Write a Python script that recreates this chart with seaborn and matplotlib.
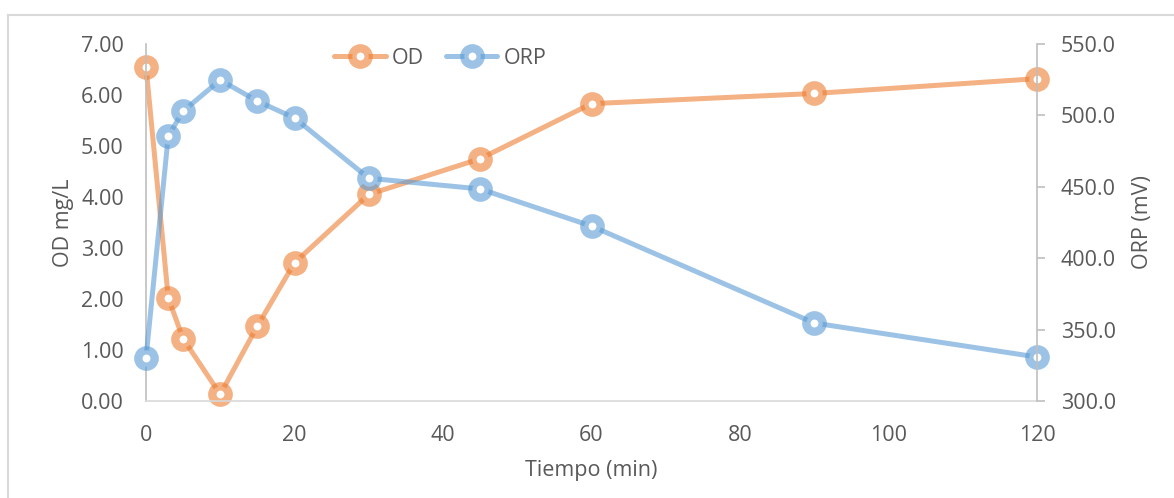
import matplotlib
matplotlib.use("Agg")
import matplotlib.pyplot as plt
import matplotlib.patches as mpatches
import seaborn as sns
import pandas as pd

# Data
tiempo = [0, 3, 5, 10, 15, 20, 30, 45, 60, 90, 120]
od = [6.55, 2.02, 1.22, 0.13, 1.47, 2.71, 4.05, 4.75, 5.83, 6.03, 6.32]
orp = [330.2, 485.6, 503.0, 524.8, 510.0, 498.2, 456.0, 448.5, 422.5, 354.6, 330.8]

od_ticks = [0, 1, 2, 3, 4, 5, 6, 7]
orp_ticks = [300, 350, 400, 450, 500, 550]
x_ticks = [0, 20, 40, 60, 80, 100, 120]

sns.set_theme(style="white")
plt.rcParams['font.family'] = ['Open Sans', 'DejaVu Sans']

df = pd.DataFrame({"Tiempo": tiempo, "OD": od, "ORP": orp})

txt = "#595959"
orange = (0.929, 0.490, 0.192, 0.6)
blue = (0.357, 0.608, 0.835, 0.6)

fig = plt.figure(figsize=(11.74, 4.98), dpi=100)
ax = fig.add_axes([146/1174, 1 - 401/498, (1037 - 146)/1174, (401 - 44)/498])
ax2 = ax.twinx()

style = dict(marker="o", markersize=11.8, markeredgewidth=6,
             markerfacecolor="white", linewidth=3.6, clip_on=False)
sns.lineplot(data=df, x="Tiempo", y="OD", ax=ax, color=orange,
             markeredgecolor=orange, label="OD", legend=False, **style)
sns.lineplot(data=df, x="Tiempo", y="ORP", ax=ax2, color=blue,
             markeredgecolor=blue, label="ORP", legend=False, **style)

for a in (ax, ax2):
    a.set_facecolor("none")
    a.grid(False)
    a.set_xlim(0, 120)
    for s in a.spines.values():
        s.set_visible(False)

ax.set_ylim(0, 7)
ax.set_yticks(od_ticks)
ax.set_yticklabels([f"{v:.2f}" for v in od_ticks])
ax.set_xticks(x_ticks)
ax.set_xticklabels([str(v) for v in x_ticks])
ax.spines["left"].set_visible(True)
ax.spines["left"].set_color("#BFBFBF")
ax.spines["left"].set_linewidth(1.2)
ax.spines["bottom"].set_visible(True)
ax.spines["bottom"].set_color("#D9D9D9")
ax.spines["bottom"].set_linewidth(1.2)
ax.tick_params(axis="y", length=0, pad=16, labelsize=15.5, labelcolor=txt)
ax.tick_params(axis="x", length=0, pad=17, labelsize=15.5, labelcolor=txt)
ax.set_xlabel("Tiempo (min)", fontsize=15.5, color=txt, labelpad=10)
ax.set_ylabel("OD mg/L", fontsize=15.5, color=txt, labelpad=5)

ax2.set_ylim(300, 550)
ax2.set_yticks(orp_ticks)
ax2.set_yticklabels([f"{v:.1f}" for v in orp_ticks])
ax2.spines["right"].set_visible(True)
ax2.spines["right"].set_color("#BFBFBF")
ax2.spines["right"].set_linewidth(1.2)
ax2.tick_params(axis="y", right=True, length=6, width=1.2, color="#BFBFBF",
                direction="out", pad=11, labelsize=15.5, labelcolor=txt)
ax2.set_ylabel("ORP (mV)", fontsize=15.5, color=txt, rotation=90, labelpad=12)

h1, l1 = ax.get_legend_handles_labels()
h2, l2 = ax2.get_legend_handles_labels()
leg = ax2.legend(h1 + h2, l1 + l2, loc="center", ncol=2, frameon=False,
                 bbox_to_anchor=(0.375, 0.883), bbox_transform=fig.transFigure,
                 fontsize=15.5, handlelength=2.4, columnspacing=1.0, handletextpad=0.3)
for t in leg.get_texts():
    t.set_color(txt)

# outer chart-area border
fig.patches.append(mpatches.Rectangle((8/1174, -0.1), 1.2, 1 - 15/498 + 0.1,
                                      transform=fig.transFigure, fill=False,
                                      edgecolor="#D9D9D9", linewidth=1.5))

fig.savefig("out.png", dpi=100)
